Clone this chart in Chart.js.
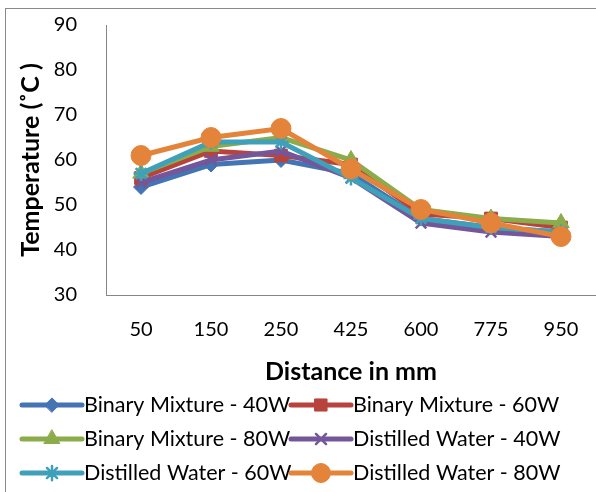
<!DOCTYPE html>
<html>
<head>
<meta charset="utf-8">
<script src="https://cdn.jsdelivr.net/npm/chart.js@4/dist/chart.umd.min.js"></script>
<style>
  html, body { margin: 0; padding: 0; background: #fff; overflow: hidden; width: 596px; height: 492px; }
  #frame { position: absolute; left: 5px; top: 8px; width: 700px; height: 600px; border: 1px solid #8a8a8a; box-sizing: border-box; pointer-events: none; }
  #c { position: absolute; left: 0; top: 0; }
</style>
</head>
<body>
<canvas id="c" width="596" height="492"></canvas>
<div id="frame"></div>
<script>
const categories = ['50', '150', '250', '425', '600', '775', '950'];
const seriesNames = ['Binary Mixture - 40W', 'Binary Mixture - 60W', 'Binary Mixture - 80W',
                     'Distilled Water - 40W', 'Distilled Water - 60W', 'Distilled Water - 80W'];
const binary40 = [54, 59, 60, 57, 47, 45, 44];
const binary60 = [56, 62, 61, 59, 48, 47, 45];
const binary80 = [57, 63, 65, 60, 49, 47, 46];
const water40  = [55, 60, 62, 56, 46, 44, 43];
const water60  = [57, 64, 64, 56, 47, 45, 44];
const water80  = [61, 65, 67, 58, 49, 46, 43];
const yTicks = [30, 40, 50, 60, 70, 80, 90];

const values = [binary40, binary60, binary80, water40, water60, water80];
const colors = ['#4374b3', '#b8433d', '#8cac4b', '#74579a', '#3fa0ba', '#e3843a'];
const styles = ['rectRot', 'rect', 'triangle', 'crossRot', 'star', 'circle'];
const radii  = [7.5, 9, 9.5, 7.5, 7.5, 10];

const FONT = 'Lato, "Open Sans", sans-serif';

const datasets = values.map((v, i) => ({
  label: seriesNames[i],
  data: v,
  borderColor: colors[i],
  backgroundColor: colors[i],
  borderWidth: 5,
  pointStyle: styles[i],
  pointRadius: radii[i],
  pointHoverRadius: radii[i],
  pointBackgroundColor: colors[i],
  pointBorderColor: colors[i],
  pointBorderWidth: (styles[i] === 'crossRot' || styles[i] === 'star') ? 2.5 : 1,
  tension: 0,
  fill: false,
  order: values.length - 1 - i
}));

const legendPlugin = {
  id: 'customLegend',
  afterDraw(chart) {
    const ctx = chart.ctx;
    const colX = [22, 291];
    const rowY = [405, 439, 473];
    ctx.save();
    chart.data.datasets.forEach((ds, i) => {
      const x = colX[i % 2];
      const y = rowY[Math.floor(i / 2)];
      ctx.strokeStyle = ds.borderColor;
      ctx.lineWidth = 5;
      ctx.lineCap = 'round';
      ctx.beginPath();
      ctx.moveTo(x, y);
      ctx.lineTo(x + 60, y);
      ctx.stroke();
      ctx.fillStyle = ds.backgroundColor;
      ctx.strokeStyle = ds.borderColor;
      ctx.lineWidth = ds.pointBorderWidth;
      Chart.helpers.drawPoint(ctx, { pointStyle: ds.pointStyle, radius: ds.pointRadius * 0.95, rotation: 0, borderWidth: ds.pointBorderWidth }, x + 30, y);
      ctx.fillStyle = '#000';
      ctx.font = '21.5px ' + FONT;
      ctx.textBaseline = 'middle';
      ctx.textAlign = 'left';
      ctx.fillText(ds.label, x + 62, y);
    });
    ctx.restore();
  }
};

new Chart(document.getElementById('c'), {
  type: 'line',
  data: { labels: categories, datasets },
  plugins: [legendPlugin],
  options: {
    responsive: false,
    animation: false,
    devicePixelRatio: 1,
    layout: { autoPadding: false, padding: { top: 25, right: -1, bottom: 105, left: 0 } },
    plugins: { legend: { display: false }, tooltip: { enabled: false } },
    scales: {
      x: {
        offset: true,
        grid: { display: false, drawTicks: false },
        border: { display: true, color: '#868686', width: 1 },
        ticks: { color: '#000', font: { family: FONT, size: 20 }, padding: 23, maxRotation: 0 },
        title: { display: true, text: 'Distance in mm', color: '#000', font: { family: FONT, size: 25, weight: 'bold' }, padding: { top: 0, bottom: 0 } },
        afterFit(s) { s.height = 92; s.paddingLeft = 0; s.paddingRight = 0; }
      },
      y: {
        min: 30, max: 90,
        afterBuildTicks(s) { s.ticks = yTicks.map(v => ({ value: v })); },
        grid: { display: false, drawTicks: false },
        border: { display: true, color: '#868686', width: 1 },
        ticks: { color: '#000', font: { family: FONT, size: 20 }, padding: 29 },
        title: { display: true, text: 'Temperature (˚C )', color: '#000', font: { family: FONT, size: 25, weight: 'bold' }, padding: { top: 16, bottom: 0 } },
        afterFit(s) { s.width = 106; s.paddingTop = 0; s.paddingBottom = 0; }
      }
    }
  }
});
</script>
</body>
</html>
